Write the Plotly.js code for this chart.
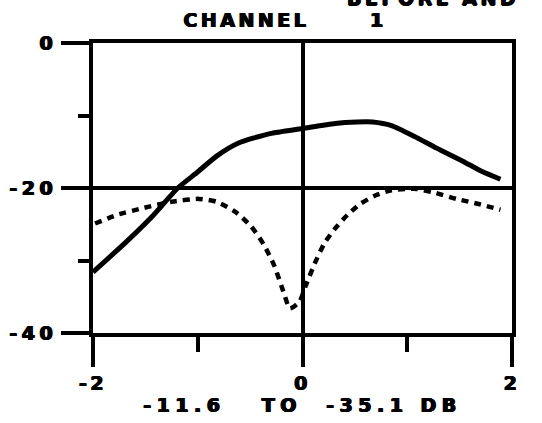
<!DOCTYPE html>
<html>
<head>
<meta charset="utf-8">
<script src="https://cdn.plot.ly/plotly-3.0.1.min.js"></script>
<style>html,body{margin:0;padding:0;background:#fff;}#chart{width:542px;height:423px;}</style>
</head>
<body>
<div id="chart"></div>
<script>
// Data
const solidX = [-2.00, -1.68, -1.44, -1.19, -1.01, -0.82, -0.61, -0.31, 0.00, 0.31, 0.52, 0.67, 0.85, 1.07, 1.28, 1.53, 1.71, 1.89];
const solidY = [-31.6, -27.4, -24.0, -20.0, -17.9, -15.6, -13.8, -12.5, -11.8, -11.1, -10.9, -10.9, -11.4, -12.9, -14.5, -16.3, -17.7, -18.8];
const dotX = [-1.98, -1.77, -1.53, -1.25, -0.99, -0.82, -0.64, -0.49, -0.37, -0.27, -0.18, -0.12, -0.03, 0.03, 0.12, 0.21, 0.31, 0.43, 0.55, 0.70, 0.85, 1.07, 1.25, 1.47, 1.68, 1.89];
const dotY = [-24.9, -23.7, -22.8, -21.9, -21.5, -21.9, -23.3, -25.3, -27.8, -30.7, -34.4, -36.6, -35.7, -33.5, -30.3, -27.6, -25.6, -23.7, -22.2, -21.0, -20.3, -20.1, -20.6, -21.5, -22.2, -23.0];
const xTickVals = [-2, 0, 2];
const xTickText = ["-2", "0", "2"];
const yTickVals = [0, -20, -40];
const yTickText = ["0", "-20", "-40"];
const titleText = "CHANNEL\u00A0\u00A0\u00A0\u00A0\u00A0\u00A01";
const topText = "BEFORE AND";
const xTitleText = "-11.6\u00A0\u00A0\u00A0TO\u00A0\u00A0-35.1\u00A0DB";

const sp = (s, ls) => '<span style="letter-spacing:' + (ls || 3.5) + 'px">' + s + '</span>';
const F = {family: "DejaVu Sans", size: 19, color: "#000", weight: "bold",
           shadow: "0.7px 0 0 #000, -0.7px 0 0 #000, 0 0.6px 0 #000"};

const traces = [
  {x: solidX, y: solidY, mode: "lines", line: {color: "#000", width: 5, shape: "spline", smoothing: 0.6}, hoverinfo: "skip"},
  {x: dotX, y: dotY, mode: "lines", line: {color: "#000", width: 4.5, dash: "7px,6px", shape: "spline", smoothing: 0.6}, hoverinfo: "skip"}
];

const axisCommon = {
  showline: true, linecolor: "#000", linewidth: 4, mirror: true,
  showgrid: true, gridcolor: "#000", gridwidth: 4,
  zeroline: false, ticks: "outside", tickcolor: "#000", tickwidth: 4,
  tickmode: "array", tickfont: F, fixedrange: true
};

const layout = {
  width: 542, height: 423,
  margin: {l: 93, r: 30, t: 43, b: 90},
  paper_bgcolor: "#fff", plot_bgcolor: "#fff",
  showlegend: false,
  title: {text: sp(titleText), font: F, x: 0.526, xanchor: "center", y: 0.953, yanchor: "middle", xref: "container", yref: "container"},
  xaxis: Object.assign({}, axisCommon, {
    range: [-2, 2], tickvals: xTickVals, ticktext: xTickText.map(t => sp(t)), ticklen: 30,
    minor: {tickvals: [-1, 1], ticklen: 15, tickwidth: 4, tickcolor: "#000", ticks: "outside", showgrid: false},
    title: {text: sp(xTitleText, 5.5), font: F, standoff: 5}
  }),
  yaxis: Object.assign({}, axisCommon, {
    range: [-40, 0], tickvals: yTickVals, ticktext: yTickText.map(t => sp(t, 4.5)), ticklen: 28,
    minor: {tickvals: [-10, -30], ticklen: 11, tickwidth: 4, tickcolor: "#000", ticks: "outside", showgrid: false}
  }),
  annotations: [
    {text: sp(topText), xref: "paper", yref: "paper", x: 0.601, y: 1.112, xanchor: "left", yanchor: "bottom", showarrow: false, font: F}
  ]
};

Plotly.newPlot("chart", traces, layout, {staticPlot: true, displayModeBar: false});
</script>
</body>
</html>
